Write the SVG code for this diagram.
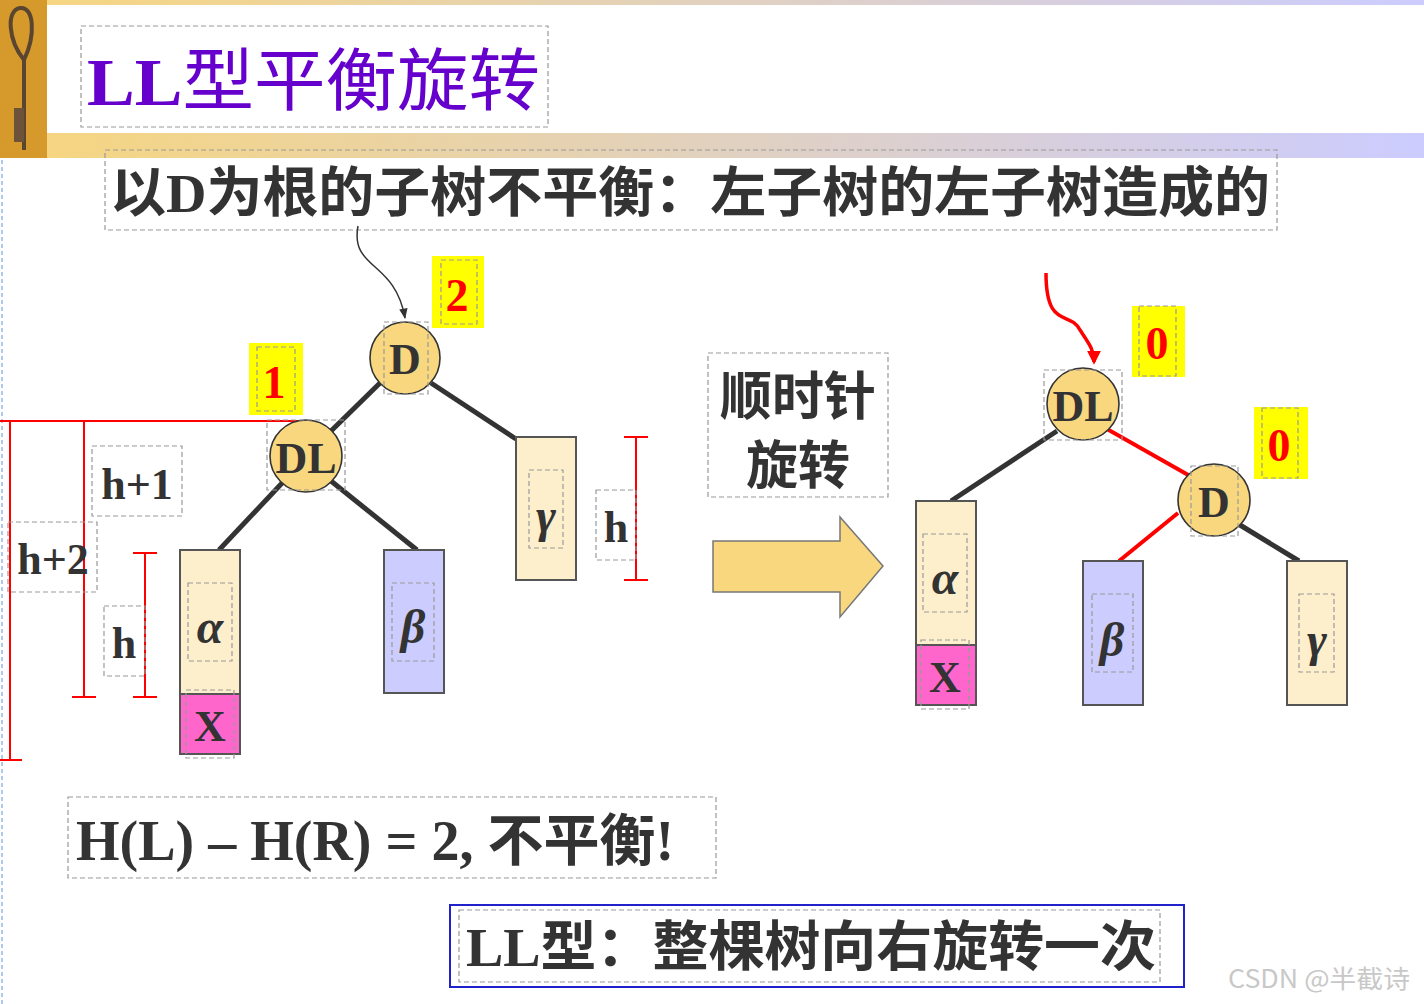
<svg xmlns="http://www.w3.org/2000/svg" width="1424" height="1004" viewBox="0 0 1424 1004">
<defs>
<linearGradient id="band" x1="0" x2="1" y1="0" y2="0"><stop offset="0" stop-color="#f7d67e"/><stop offset="1" stop-color="#ccccff"/></linearGradient>
<marker id="ab" viewBox="0 0 10 10" refX="9" refY="5" markerWidth="7" markerHeight="7" orient="auto"><path d="M0,1 L10,5 L0,9 z" fill="#333"/></marker>
<marker id="ar" viewBox="0 0 10 10" refX="8" refY="5" markerWidth="4" markerHeight="4" orient="auto" markerUnits="strokeWidth"><path d="M0,0 L10,5 L0,10 z" fill="#f00"/></marker>
</defs>
<style>
.db{fill:none;stroke:#999;stroke-width:1.2;stroke-dasharray:5,3}
.node{fill:#f8d77f;stroke:#333;stroke-width:1.6}
.nt{font-family:"Liberation Serif",serif;font-weight:bold;font-size:44px;fill:#333;text-anchor:middle}
.lab{fill:#ffff00}
.lt{font-family:"Liberation Serif",serif;font-weight:bold;font-size:46px;fill:#f00;text-anchor:middle}
.edge{stroke:#333;stroke-width:5}
.red{stroke:#f00;stroke-width:4}
.rl{stroke:#f00;stroke-width:2;fill:none}
.box{stroke:#555;stroke-width:2}
.gk{font-family:"Liberation Serif",serif;font-weight:bold;font-style:italic;font-size:48px;fill:#333;text-anchor:middle}
.ht{font-family:"Liberation Serif",serif;font-weight:bold;font-size:44px;fill:#333;text-anchor:middle}
.cn{font-family:"Noto Sans CJK SC",sans-serif;font-weight:bold;fill:#333}
</style>
<rect x="0" y="0" width="1424" height="5" fill="url(#band)"/>
<rect x="0" y="133" width="1424" height="25" fill="url(#band)"/>
<g id="key"><rect x="0" y="0" width="47" height="158" fill="#d69a2c"/>
<path d="M24,150 L24,60 M24,60 C8,40 6,10 20,8 C34,6 36,35 24,60" stroke="#5a4530" stroke-width="4" fill="none"/>
<rect x="14" y="108" width="10" height="34" fill="#6b5238"/></g>
<line x1="2" y1="160" x2="2" y2="1004" stroke="#7aa6e0" stroke-width="1.2" stroke-dasharray="4,3"/>
<g id="title"><rect class="db" x="81" y="26" width="467" height="101"/>
<text x="87" y="105" font-family="Liberation Serif,Noto Sans CJK SC,serif" font-weight="bold" font-size="68" fill="#6600cc" textLength="453" lengthAdjust="spacingAndGlyphs">LL<tspan font-family="Noto Sans CJK SC,sans-serif" font-weight="normal">型平衡旋转</tspan></text></g>
<g id="subtitle"><rect class="db" x="105" y="150" width="1172" height="80"/>
<text class="cn" x="110" y="212" font-size="54" textLength="1160" lengthAdjust="spacingAndGlyphs">以<tspan font-family="Liberation Serif,serif">D</tspan>为根的子树不平衡：左子树的左子树造成的</text></g>
<g id="connectors">
<path d="M358,226 C350,270 395,260 405,318" fill="none" stroke="#333" stroke-width="1.5" marker-end="url(#ab)"/>
<line class="edge" x1="380" y1="383" x2="331" y2="431"/>
<line class="edge" x1="431" y1="383" x2="516" y2="439"/>
<line class="edge" x1="284" y1="481" x2="219" y2="550"/>
<line class="edge" x1="331" y1="481" x2="417" y2="550"/>
<path d="M1046,273 C1046,330 1070,310 1080,330 C1090,345 1094,350 1094,362" fill="none" stroke="#f00" stroke-width="3.5" marker-end="url(#ar)"/>
<line class="edge" x1="1057" y1="431" x2="951" y2="501"/>
<line class="red" x1="1107" y1="429" x2="1190" y2="476"/>
<line class="red" x1="1178" y1="513" x2="1119" y2="561"/>
<line class="edge" x1="1240" y1="525" x2="1299" y2="561"/>
</g>
<g id="brackets">
<line class="rl" x1="0" y1="421" x2="300" y2="421"/>
<line class="rl" x1="10" y1="421" x2="10" y2="760"/><line class="rl" x1="0" y1="760" x2="22" y2="760"/>
<line class="rl" x1="84" y1="421" x2="84" y2="697"/><line class="rl" x1="72" y1="697" x2="96" y2="697"/>
<line class="rl" x1="145" y1="553" x2="145" y2="697"/><line class="rl" x1="133" y1="553" x2="157" y2="553"/><line class="rl" x1="133" y1="697" x2="157" y2="697"/>
<line class="rl" x1="636" y1="437" x2="636" y2="580"/><line class="rl" x1="624" y1="437" x2="648" y2="437"/><line class="rl" x1="624" y1="580" x2="648" y2="580"/>
<rect class="db" x="92" y="446" width="90" height="70"/><text class="ht" x="137" y="499">h+1</text>
<rect class="db" x="8" y="522" width="89" height="70"/><text class="ht" x="53" y="574">h+2</text>
<rect class="db" x="104" y="606" width="41" height="70"/><text class="ht" x="124" y="658">h</text>
<rect class="db" x="596" y="490" width="40" height="70"/><text class="ht" x="616" y="542">h</text>
</g>
<g id="L-D"><ellipse class="node" cx="405" cy="358" rx="35" ry="36"/><rect class="db" x="384" y="322" width="44" height="72"/><text class="nt" x="405" y="374">D</text></g>
<g id="L-label2"><rect class="lab" x="432" y="256" width="52" height="72"/><rect class="db" x="441" y="260" width="36" height="64"/><text class="lt" x="457" y="311">2</text></g>
<g id="L-DL"><ellipse class="node" cx="306" cy="456" rx="36" ry="36"/><rect class="db" x="267" y="420" width="78" height="70"/><text class="nt" x="306" y="473">DL</text></g>
<g id="L-label1"><rect class="lab" x="249" y="343" width="54" height="72"/><rect class="db" x="257" y="347" width="38" height="64"/><text class="lt" x="274" y="398">1</text></g>
<g id="L-alpha"><rect class="box" x="180" y="550" width="60" height="144" fill="#fdefcc"/><rect class="db" x="188" y="583" width="44" height="78"/><text class="gk" x="210" y="643">α</text></g>
<g id="L-X"><rect class="box" x="180" y="694" width="60" height="60" fill="#ff66cc"/><rect class="db" x="186" y="690" width="48" height="68"/><text class="ht" x="210" y="741">X</text></g>
<g id="L-beta"><rect class="box" x="384" y="550" width="60" height="143" fill="#ccccff"/><rect class="db" x="392" y="583" width="42" height="78"/><text class="gk" x="413" y="643">β</text></g>
<g id="L-gamma"><rect class="box" x="516" y="437" width="60" height="143" fill="#fdefcc"/><rect class="db" x="529" y="470" width="34" height="78"/><text class="gk" x="546" y="532">γ</text></g>
<g id="rotate-label"><rect class="db" x="708" y="353" width="180" height="144"/><text class="cn" x="798" y="415" font-size="52" text-anchor="middle">顺时针</text><text class="cn" x="798" y="484" font-size="52" text-anchor="middle">旋转</text></g>
<g id="big-arrow"><polygon points="713,541 840,541 840,517 883,566 840,617 840,592 713,592" fill="#f8d77f" stroke="#777" stroke-width="1.5"/></g>
<g id="R-DL"><ellipse class="node" cx="1083" cy="404" rx="36" ry="36"/><rect class="db" x="1044" y="370" width="78" height="70"/><text class="nt" x="1083" y="421">DL</text></g>
<g id="R-label0a"><rect class="lab" x="1132" y="306" width="53" height="71"/><rect class="db" x="1139" y="306" width="37" height="70"/><text class="lt" x="1157" y="359">0</text></g>
<g id="R-D"><ellipse class="node" cx="1214" cy="500" rx="36" ry="36"/><rect class="db" x="1191" y="466" width="47" height="70"/><text class="nt" x="1214" y="517">D</text></g>
<g id="R-label0b"><rect class="lab" x="1254" y="407" width="54" height="72"/><rect class="db" x="1262" y="408" width="36" height="70"/><text class="lt" x="1279" y="461">0</text></g>
<g id="R-alpha"><rect class="box" x="916" y="501" width="60" height="144" fill="#fdefcc"/><rect class="db" x="923" y="534" width="44" height="78"/><text class="gk" x="945" y="594">α</text></g>
<g id="R-X"><rect class="box" x="916" y="645" width="60" height="60" fill="#ff66cc"/><rect class="db" x="921" y="640" width="48" height="69"/><text class="ht" x="945" y="692">X</text></g>
<g id="R-beta"><rect class="box" x="1083" y="561" width="60" height="144" fill="#ccccff"/><rect class="db" x="1092" y="594" width="41" height="78"/><text class="gk" x="1112" y="656">β</text></g>
<g id="R-gamma"><rect class="box" x="1287" y="561" width="60" height="144" fill="#fdefcc"/><rect class="db" x="1299" y="594" width="35" height="78"/><text class="gk" x="1317" y="656">γ</text></g>
<g id="formula"><rect class="db" x="68" y="797" width="648" height="81"/>
<text x="76" y="860" font-family="Liberation Serif,Noto Sans CJK SC,serif" font-weight="bold" font-size="56" fill="#333">H(L) – H(R) = 2, <tspan font-family="Noto Sans CJK SC,sans-serif">不平衡</tspan>!</text></g>
<g id="summary"><rect x="450" y="905" width="734" height="82" fill="none" stroke="#2222cc" stroke-width="2"/><rect class="db" x="459" y="910" width="701" height="72"/>
<text x="466" y="966" font-family="Liberation Serif,serif" font-weight="bold" font-size="54" fill="#333" textLength="690" lengthAdjust="spacingAndGlyphs">LL<tspan font-family="Noto Sans CJK SC,sans-serif">型：整棵树向右旋转一次</tspan></text></g>
<text x="1228" y="988" font-family="Noto Sans CJK SC,sans-serif" font-size="25" fill="#c8c8c8" textLength="182" lengthAdjust="spacingAndGlyphs">CSDN @半截诗</text>
</svg>
